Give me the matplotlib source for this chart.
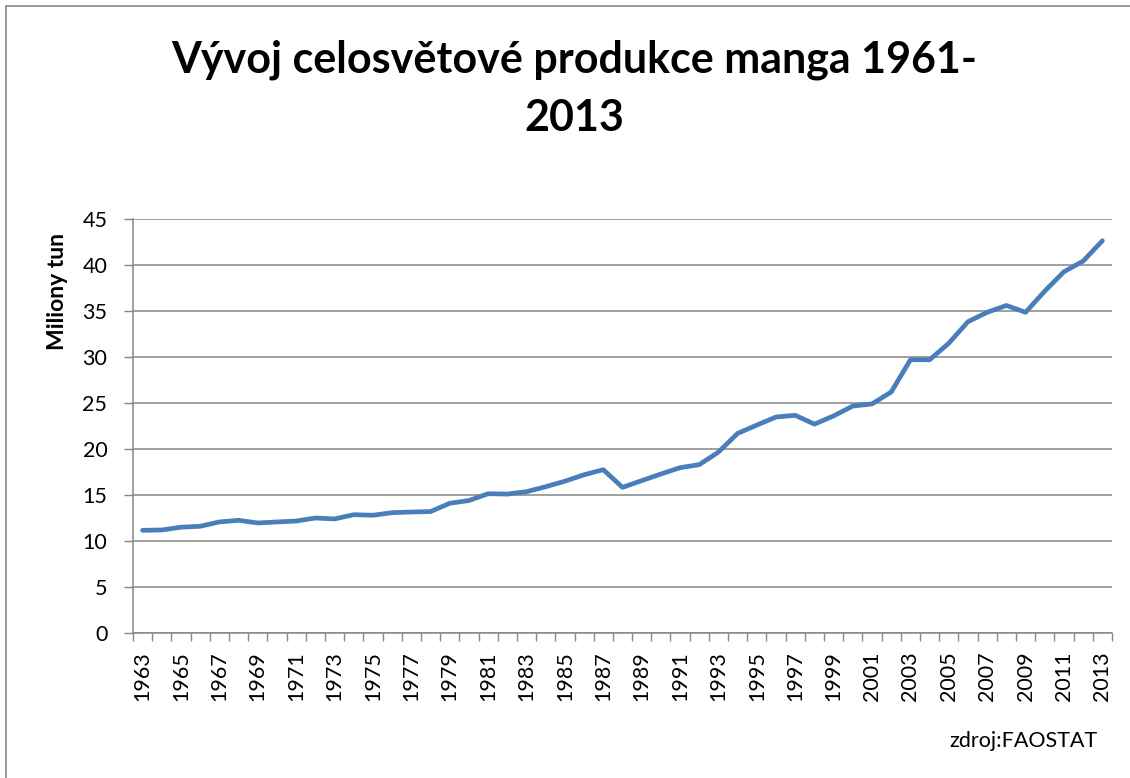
import numpy as np
import matplotlib.pyplot as plt
from matplotlib.patches import Rectangle

plt.rcParams['font.family'] = ['Lato', 'DejaVu Sans']

# data (milions of tonnes)
years = list(range(1963, 2014))
production = [11.16, 11.2, 11.5, 11.6, 12.07, 12.25, 11.96, 12.07, 12.17, 12.5,
              12.4, 12.86, 12.8, 13.08, 13.15, 13.2, 14.1, 14.4, 15.14, 15.1,
              15.36, 15.9, 16.5, 17.2, 17.75, 15.83, 16.56, 17.28, 17.97, 18.3,
              19.67, 21.7, 22.6, 23.48, 23.66, 22.7, 23.6, 24.67, 24.9, 26.2,
              29.7, 29.7, 31.5, 33.84, 34.86, 35.6, 34.86, 37.17, 39.27, 40.43,
              42.64]
yticks = [0, 5, 10, 15, 20, 25, 30, 35, 40, 45]

title_l1 = 'Vývoj celosvětové produkce manga 1961-'
title_l2 = '2013'
ylabel = 'Miliony tun'
source = 'zdroj:FAOSTAT'

W, H = 1130, 778
grey = '#868686'
line_c = '#4A7EBB'

fig = plt.figure(figsize=(W / 100, H / 100), dpi=100)
ax = fig.add_axes([133 / W, 1 - 633 / H, 979 / W, 414 / H])

x = np.arange(len(years))
ax.plot(x, production, color=line_c, lw=3.4, solid_joinstyle='round',
        solid_capstyle='round', zorder=3)

ax.set_xlim(-0.5, len(years) - 0.5)
ax.set_ylim(0, 45)
ax.set_yticks(yticks)
ax.yaxis.grid(True, color=grey, lw=1.1)
ax.set_axisbelow(True)

# category boundaries as ticks, labels every 2nd year on the points
ax.set_xticks(np.arange(-0.5, len(years), 1.0))
ax.set_xticklabels([])
ax.set_xticks(x[::2], minor=True)
ax.set_xticklabels([str(y) for y in years[::2]], minor=True, rotation=90,
                   fontsize=15.5)
ax.tick_params(axis='x', which='major', length=6, width=1, color=grey,
               direction='out')
ax.tick_params(axis='x', which='minor', length=0, pad=13)
ax.tick_params(axis='y', length=6.5, width=1, color=grey, pad=12,
               labelsize=15.5)

for s in ['top', 'right']:
    ax.spines[s].set_visible(False)
for s in ['left', 'bottom']:
    ax.spines[s].set_color(grey)
    ax.spines[s].set_linewidth(1.1)

fig.text(58 / W, 1 - 291 / H, ylabel, rotation=90, ha='center', va='center',
         fontsize=16.5, fontweight='bold')

fig.text(574 / W, 1 - 72 / H, title_l1, ha='center', va='baseline',
         fontsize=31, fontweight='bold')
fig.text(574 / W, 1 - 131 / H, title_l2, ha='center', va='baseline',
         fontsize=31, fontweight='bold')

fig.text(1097 / W, 1 - 741 / H, source, ha='right', va='center',
         fontsize=15.5)

# chart frame (top and left edges show inside the picture)
fig.add_artist(Rectangle((6 / W, -0.1), 1.2, 1 - 6 / H + 0.1,
                         transform=fig.transFigure, fill=False,
                         edgecolor=grey, lw=1.2))

fig.savefig('out.png', dpi=100)
